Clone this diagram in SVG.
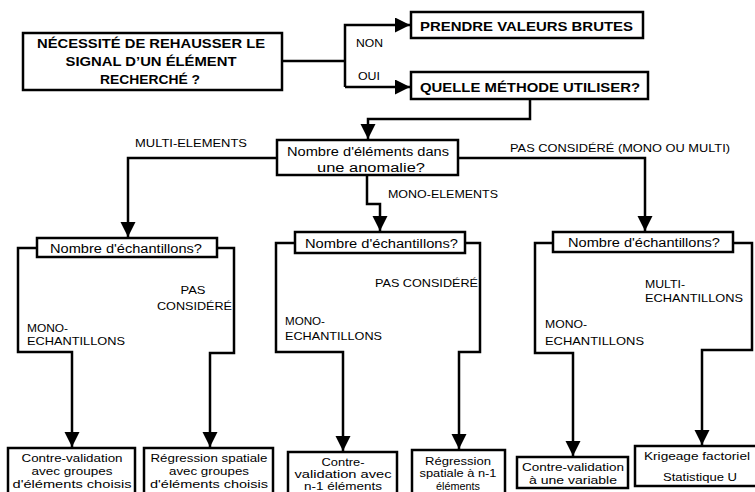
<svg xmlns="http://www.w3.org/2000/svg" width="755" height="492" viewBox="0 0 755 492">
<style>
.box{fill:#fff;stroke:#000;stroke-width:2.5}
.con{fill:none;stroke:#000;stroke-width:2.5;stroke-linejoin:miter}
.b{font-family:"Liberation Sans",Arial,sans-serif;font-weight:bold;font-size:12.5px;fill:#000}
.t{font-family:"Liberation Sans",Arial,sans-serif;font-size:12.5px;fill:#000}
.s{font-family:"Liberation Sans",Arial,sans-serif;font-size:11px;fill:#000}
.l{font-family:"Liberation Sans",Arial,sans-serif;font-size:10.5px;fill:#000}
.m{text-anchor:middle}
</style>
<defs>
<marker id="ah" markerUnits="userSpaceOnUse" markerWidth="16" markerHeight="16" refX="15" refY="7.5" orient="auto">
<path d="M0,0 L15,7.5 L0,15 z" fill="#000"/>
</marker>
</defs>
<g id="connectors">
<path class="con" d="M282,61 H345"/>
<path class="con" d="M345,87 V25 H410" marker-end="url(#ah)"/>
<path class="con" d="M345,87 H410" marker-end="url(#ah)"/>
<path class="con" d="M530,99 V119 H368 V139" marker-end="url(#ah)"/>
<path class="con" d="M277,158 H128 V237" marker-end="url(#ah)"/>
<path class="con" d="M367,175 V204 H380 V231" marker-end="url(#ah)"/>
<path class="con" d="M458,158 H645 V231" marker-end="url(#ah)"/>
<path class="con" d="M37,248 H18 V352 H72 V447" marker-end="url(#ah)"/>
<path class="con" d="M217,248 H234 V353 H210 V447" marker-end="url(#ah)"/>
<path class="con" d="M295,243 H276 V352 H343 V451" marker-end="url(#ah)"/>
<path class="con" d="M465,243 H480 V352 H459 V449" marker-end="url(#ah)"/>
<path class="con" d="M553,243 H535 V353 H573 V456" marker-end="url(#ah)"/>
<path class="con" d="M733,243 H752 V350 H702 V445" marker-end="url(#ah)"/>
<text class="l" x="356" y="47" textLength="27" lengthAdjust="spacingAndGlyphs">NON</text>
<text class="l" x="358" y="80" textLength="22" lengthAdjust="spacingAndGlyphs">OUI</text>
<text class="l" x="135" y="147" textLength="112" lengthAdjust="spacingAndGlyphs">MULTI-ELEMENTS</text>
<text class="l" x="388" y="198" textLength="110" lengthAdjust="spacingAndGlyphs">MONO-ELEMENTS</text>
<text class="l" x="510" y="152" textLength="220" lengthAdjust="spacingAndGlyphs">PAS CONSIDÉRÉ (MONO OU MULTI)</text>
<text class="l" x="27" y="332" textLength="41" lengthAdjust="spacingAndGlyphs">MONO-</text>
<text class="l" x="27" y="345" textLength="98" lengthAdjust="spacingAndGlyphs">ECHANTILLONS</text>
<text class="l m" x="193" y="294" textLength="25" lengthAdjust="spacingAndGlyphs">PAS</text>
<text class="l" x="157" y="310" textLength="75" lengthAdjust="spacingAndGlyphs">CONSIDÉRÉ</text>
<text class="l" x="375" y="287" textLength="103" lengthAdjust="spacingAndGlyphs">PAS CONSIDÉRÉ</text>
<text class="l" x="285" y="325" textLength="40" lengthAdjust="spacingAndGlyphs">MONO-</text>
<text class="l" x="285" y="340" textLength="97" lengthAdjust="spacingAndGlyphs">ECHANTILLONS</text>
<text class="l" x="645" y="288" textLength="40" lengthAdjust="spacingAndGlyphs">MULTI-</text>
<text class="l" x="645" y="302" textLength="98" lengthAdjust="spacingAndGlyphs">ECHANTILLONS</text>
<text class="l" x="545" y="328" textLength="42" lengthAdjust="spacingAndGlyphs">MONO-</text>
<text class="l" x="545" y="345" textLength="99" lengthAdjust="spacingAndGlyphs">ECHANTILLONS</text>
</g>
<g id="n-start">
<rect class="box" x="23" y="33" width="259" height="57"/>
<text class="b m" x="151" y="48" textLength="228" lengthAdjust="spacingAndGlyphs">NÉCESSITÉ DE REHAUSSER LE</text>
<text class="b m" x="151" y="66" textLength="171" lengthAdjust="spacingAndGlyphs">SIGNAL D’UN ÉLÉMENT</text>
<text class="b m" x="150" y="84" textLength="100" lengthAdjust="spacingAndGlyphs">RECHERCHÉ ?</text>
</g>
<g id="n-brutes">
<rect class="box" x="411" y="12" width="232" height="26"/>
<text class="b" x="420" y="31" textLength="213" lengthAdjust="spacingAndGlyphs">PRENDRE VALEURS BRUTES</text>
</g>
<g id="n-methode">
<rect class="box" x="411" y="72" width="237" height="27"/>
<text class="b" x="420" y="92" textLength="220" lengthAdjust="spacingAndGlyphs">QUELLE MÉTHODE UTILISER?</text>
</g>
<g id="n-elements">
<rect class="box" x="277" y="140" width="181" height="35"/>
<text class="t" x="287" y="156" textLength="162" lengthAdjust="spacingAndGlyphs">Nombre d'éléments dans</text>
<text class="t" x="317" y="172" textLength="108" lengthAdjust="spacingAndGlyphs">une anomalie?</text>
</g>
<g id="n-ech-left">
<rect class="box" x="37" y="238" width="180" height="19"/>
<text class="t" x="50" y="253" textLength="152" lengthAdjust="spacingAndGlyphs">Nombre d'échantillons?</text>
</g>
<g id="n-ech-mid">
<rect class="box" x="295" y="232" width="170" height="21"/>
<text class="t" x="305" y="248" textLength="153" lengthAdjust="spacingAndGlyphs">Nombre d'échantillons?</text>
</g>
<g id="n-ech-right">
<rect class="box" x="553" y="232" width="180" height="20"/>
<text class="t" x="568" y="247" textLength="152" lengthAdjust="spacingAndGlyphs">Nombre d'échantillons?</text>
</g>
<g id="n-cv-groupes">
<rect class="box" x="8" y="448" width="127" height="60"/>
<text class="s m" x="72" y="462" textLength="101" lengthAdjust="spacingAndGlyphs">Contre-validation</text>
<text class="s m" x="72" y="475" textLength="81" lengthAdjust="spacingAndGlyphs">avec groupes</text>
<text class="s m" x="72" y="488" textLength="119" lengthAdjust="spacingAndGlyphs">d'éléments choisis</text>
</g>
<g id="n-rs-groupes">
<rect class="box" x="144" y="448" width="129" height="60"/>
<text class="s m" x="209" y="462" textLength="117" lengthAdjust="spacingAndGlyphs">Régression spatiale</text>
<text class="s m" x="209" y="475" textLength="80" lengthAdjust="spacingAndGlyphs">avec groupes</text>
<text class="s m" x="209" y="488" textLength="118" lengthAdjust="spacingAndGlyphs">d'éléments choisis</text>
</g>
<g id="n-cv-n1">
<rect class="box" x="288" y="452" width="109" height="60"/>
<text class="s m" x="343" y="466" textLength="43" lengthAdjust="spacingAndGlyphs">Contre-</text>
<text class="s m" x="343" y="478" textLength="97" lengthAdjust="spacingAndGlyphs">validation avec</text>
<text class="s m" x="343" y="490" textLength="78" lengthAdjust="spacingAndGlyphs">n-1 éléments</text>
</g>
<g id="n-rs-n1">
<rect class="box" x="412" y="450" width="93" height="60"/>
<text class="s m" x="458" y="465" textLength="66" lengthAdjust="spacingAndGlyphs">Régression</text>
<text class="s m" x="458" y="477" textLength="77" lengthAdjust="spacingAndGlyphs">spatiale à n-1</text>
<text class="s m" x="458" y="490" textLength="44" lengthAdjust="spacingAndGlyphs">éléments</text>
</g>
<g id="n-cv-var">
<rect class="box" x="517" y="457" width="111" height="31"/>
<text class="s m" x="573" y="471" textLength="102" lengthAdjust="spacingAndGlyphs">Contre-validation</text>
<text class="s m" x="573" y="484" textLength="88" lengthAdjust="spacingAndGlyphs">à une variable</text>
</g>
<g id="n-krigeage">
<rect class="box" x="635" y="446" width="125" height="40"/>
<text class="s m" x="697" y="460" textLength="106" lengthAdjust="spacingAndGlyphs">Krigeage factoriel</text>
<text class="s m" x="700" y="481" textLength="74" lengthAdjust="spacingAndGlyphs">Statistique U</text>
</g>
</svg>
